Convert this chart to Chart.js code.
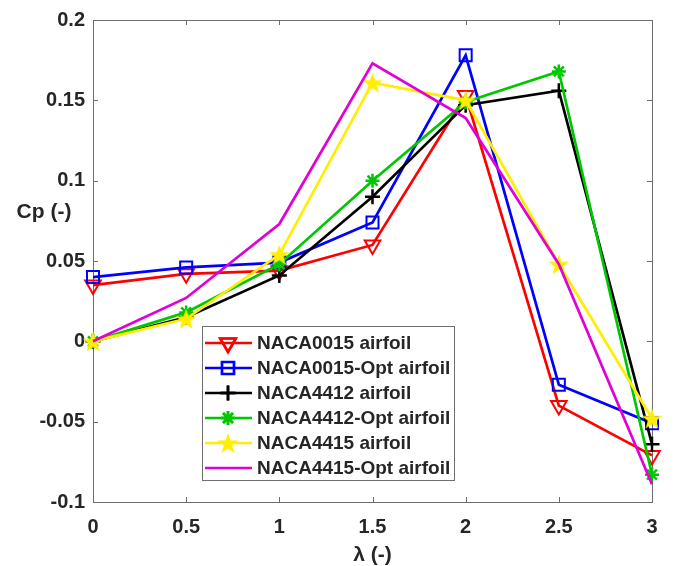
<!DOCTYPE html>
<html>
<head>
<meta charset="utf-8">
<script src="https://cdn.jsdelivr.net/npm/chart.js@4.4.1/dist/chart.umd.min.js"></script>
<style>
html, body { margin: 0; padding: 0; background: #ffffff; }
</style>
</head>
<body>
<canvas id="cp-plot" width="675" height="566"></canvas>
<script>
// tip speed ratio and power coefficient
const lambdaValues = [0, 0.5, 1, 1.5, 2, 2.5, 3];

const naca0015    = [0.035, 0.042, 0.044, 0.060, 0.153, -0.040, -0.071];
const naca0015Opt = [0.040, 0.046, 0.049, 0.074, 0.178, -0.027, -0.051];
const naca4412    = [0.000, 0.015, 0.041, 0.090, 0.147,  0.156, -0.064];
const naca4412Opt = [0.000, 0.018, 0.048, 0.100, 0.149,  0.168, -0.083];
const naca4415    = [0.000, 0.014, 0.054, 0.161, 0.150,  0.048, -0.048];
const naca4415Opt = [0.000, 0.027, 0.073, 0.173, 0.139,  0.048, -0.089];

const seriesNames = [
    'NACA0015 airfoil',
    'NACA0015-Opt airfoil',
    'NACA4412 airfoil',
    'NACA4412-Opt airfoil',
    'NACA4415 airfoil',
    'NACA4415-Opt airfoil'
];

const xAxisTitle = 'λ (-)';
const yAxisTitle = 'Cp (-)';

const FONT = '"Liberation Sans", Arial, sans-serif';
const AXIS_GRAY = '#6e6e6e';
const TEXT_COLOR = '#262626';

function makeStar(size, color) {
    const c = document.createElement('canvas');
    c.width = size;
    c.height = size;
    const g = c.getContext('2d');
    const cx = size / 2, cy = size / 2 + 1, ro = size / 2, ri = ro * 0.4;
    g.beginPath();
    for (let k = 0; k < 10; k++) {
        const r = k % 2 ? ri : ro;
        const a = -Math.PI / 2 + k * Math.PI / 5;
        g.lineTo(cx + r * Math.cos(a), cy + r * Math.sin(a));
    }
    g.closePath();
    g.fillStyle = color;
    g.fill();
    return c;
}

const yellowStar = makeStar(22, '#ffee00');

function toPoints(values) {
    return values.map((v, i) => ({ x: lambdaValues[i], y: v }));
}

const styles = [
    { color: '#ff0000', pointStyle: 'triangle', rotation: 180, radius: 9, pw: 2 },
    { color: '#0000ff', pointStyle: 'rect', rotation: 0, radius: 8.5, pw: 2 },
    { color: '#000000', pointStyle: 'cross', rotation: 0, radius: 7.5, pw: 2.5 },
    { color: '#00c800', pointStyle: 'star', rotation: 0, radius: 7, pw: 2.5 },
    { color: '#ffee00', pointStyle: yellowStar, rotation: 0, radius: 11, pw: 1 },
    { color: '#e100d6', pointStyle: false, rotation: 0, radius: 0, pw: 0 }
];

const seriesValues = [naca0015, naca0015Opt, naca4412, naca4412Opt, naca4415, naca4415Opt];

const datasets = seriesValues.map((vals, i) => ({
    label: seriesNames[i],
    data: toPoints(vals),
    borderColor: styles[i].color,
    backgroundColor: styles[i].color,
    borderWidth: 2.7,
    pointStyle: styles[i].pointStyle,
    pointRotation: styles[i].rotation,
    pointRadius: styles[i].radius,
    pointBorderWidth: styles[i].pw,
    pointBorderColor: styles[i].color,
    pointBackgroundColor: 'rgba(0,0,0,0)',
    tension: 0,
    clip: false,
    order: seriesValues.length - i
}));

// MATLAB style box with inward ticks on all four sides
const axesBox = {
    id: 'axesBox',
    beforeDatasetsDraw(chart) {
        const { ctx, chartArea: { left, top, right, bottom } } = chart;
        const xs = chart.scales.x, ys = chart.scales.y;
        const len = 5;
        ctx.save();
        ctx.strokeStyle = AXIS_GRAY;
        ctx.lineWidth = 1;
        ctx.strokeRect(Math.round(left) + 0.5, Math.round(top) + 0.5,
            Math.round(right - left), Math.round(bottom - top));
        ctx.beginPath();
        xs.ticks.forEach(t => {
            const px = Math.round(xs.getPixelForValue(t.value)) + 0.5;
            ctx.moveTo(px, bottom); ctx.lineTo(px, bottom - len);
            ctx.moveTo(px, top); ctx.lineTo(px, top + len);
        });
        ys.ticks.forEach(t => {
            const py = Math.round(ys.getPixelForValue(t.value)) + 0.5;
            ctx.moveTo(left, py); ctx.lineTo(left + len, py);
            ctx.moveTo(right, py); ctx.lineTo(right - len, py);
        });
        ctx.stroke();

        // horizontal y axis title, MATLAB places it left of the ticks
        ctx.fillStyle = TEXT_COLOR;
        ctx.font = 'bold 21px ' + FONT;
        ctx.textAlign = 'center';
        ctx.textBaseline = 'middle';
        ctx.fillText(yAxisTitle, 44, ys.getPixelForValue(0.0805));
        ctx.restore();
    }
};

const boxLegend = {
    id: 'boxLegend',
    afterDraw(chart) {
        const { ctx, chartArea: { left, bottom } } = chart;
        const x0 = left + 109, y0 = bottom - 176, w = 252, h = 154;
        ctx.save();
        ctx.fillStyle = '#ffffff';
        ctx.fillRect(x0, y0, w, h);
        ctx.strokeStyle = AXIS_GRAY;
        ctx.lineWidth = 1;
        ctx.strokeRect(Math.round(x0) + 0.5, Math.round(y0) + 0.5, w, h);
        ctx.font = 'bold 19px ' + FONT;
        ctx.textBaseline = 'middle';
        ctx.textAlign = 'left';
        chart.data.datasets.forEach((ds, i) => {
            const y = y0 + 17 + i * 25;
            ctx.strokeStyle = ds.borderColor;
            ctx.lineWidth = 2.7;
            ctx.beginPath();
            ctx.moveTo(x0 + 3, y);
            ctx.lineTo(x0 + 50, y);
            ctx.stroke();
            if (ds.pointStyle) {
                ctx.strokeStyle = ds.pointBorderColor;
                ctx.fillStyle = ds.pointBackgroundColor;
                Chart.helpers.drawPoint(ctx, {
                    pointStyle: ds.pointStyle,
                    rotation: ds.pointRotation,
                    radius: ds.pointRadius,
                    borderWidth: ds.pointBorderWidth
                }, x0 + 26, y);
                ctx.lineWidth = ds.pointBorderWidth;
                ctx.stroke();
            }
            ctx.fillStyle = TEXT_COLOR;
            ctx.fillText(ds.label, x0 + 55, y + 1);
        });
        ctx.restore();
    }
};

const ctx = document.getElementById('cp-plot').getContext('2d');

new Chart(ctx, {
    type: 'line',
    plugins: [axesBox, boxLegend],
    data: { datasets: datasets },
    options: {
        responsive: false,
        animation: false,
        layout: {
            padding: { left: 0, right: 23, top: 17, bottom: 0 }
        },
        plugins: {
            legend: { display: false },
            tooltip: { enabled: false }
        },
        scales: {
            x: {
                type: 'linear',
                min: 0,
                max: 3,
                ticks: {
                    stepSize: 0.5,
                    padding: 13,
                    color: TEXT_COLOR,
                    font: { family: FONT, size: 20, weight: 'bold' },
                    maxRotation: 0,
                    callback: v => String(Math.round(v * 100) / 100)
                },
                grid: { display: false, drawTicks: false },
                border: { display: false },
                title: {
                    display: true,
                    text: xAxisTitle,
                    color: TEXT_COLOR,
                    font: { family: FONT, size: 21, weight: 'bold', lineHeight: 1 },
                    padding: { top: 0, bottom: 0 }
                },
                afterFit(scale) { scale.height = 64; }
            },
            y: {
                type: 'linear',
                min: -0.1,
                max: 0.2,
                ticks: {
                    stepSize: 0.05,
                    padding: 8,
                    color: TEXT_COLOR,
                    font: { family: FONT, size: 20, weight: 'bold' },
                    callback: v => String(Math.round(v * 100) / 100)
                },
                grid: { display: false, drawTicks: false },
                border: { display: false },
                afterFit(scale) { scale.width = 93; }
            }
        }
    }
});
</script>
</body>
</html>
